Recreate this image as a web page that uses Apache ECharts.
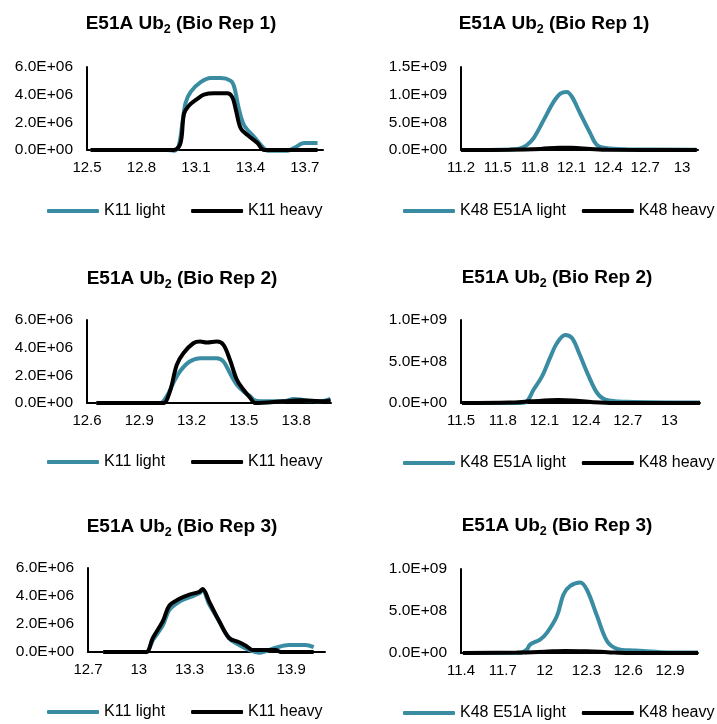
<!DOCTYPE html>
<html><head><meta charset="utf-8">
<script src="https://cdn.jsdelivr.net/npm/echarts@6/dist/echarts.min.js"></script>
<style>html,body{margin:0;padding:0;background:#fff}#c{width:717px;height:724px}</style>
</head><body><div id="c"></div>
<script>
// ---- text ----
const titles = ['E51A Ub{s|2} (Bio Rep 1)','E51A Ub{s|2} (Bio Rep 1)','E51A Ub{s|2} (Bio Rep 2)','E51A Ub{s|2} (Bio Rep 2)','E51A Ub{s|2} (Bio Rep 3)','E51A Ub{s|2} (Bio Rep 3)'];
const namesK11 = ['K11 light','K11 heavy'];
const namesK48 = ['K48 E51A light','K48 heavy'];
// ---- axes ----
const xMin = [12.5, 11.2, 12.6, 11.5, 12.7, 11.4];
const xMax = [13.8, 13.13, 14.0, 13.22, 14.1, 13.1];
const xStep = 0.3;
const yMax = [6e6, 1.5e9, 6e6, 1e9, 6e6, 1e9];
const yStep = [2e6, 5e8, 2e6, 5e8, 2e6, 5e8];
// ---- data [retention time, intensity] ----
const p1Light = [[12.52,0],[12.94,0],[12.98,-0.05e6],[13.005,0.3e6],[13.025,1.9e6],[13.043,3.4e6],[13.071,4.2e6],[13.126,4.9e6],[13.181,5.2e6],[13.237,5.2e6],[13.292,5.0e6],[13.31,4.6e6],[13.338,2.9e6],[13.365,1.8e6],[13.42,0.96e6],[13.476,0.1e6],[13.494,-0.05e6],[13.605,-0.05e6],[13.641,0.15e6],[13.697,0.5e6],[13.77,0.5e6]];
const p1Heavy = [[12.52,0],[12.978,0],[13.015,0.5e6],[13.034,2.6e6],[13.061,3.2e6],[13.108,3.7e6],[13.144,4.0e6],[13.2,4.1e6],[13.273,4.1e6],[13.301,3.8e6],[13.32,2.9e6],[13.347,1.56e6],[13.384,1.08e6],[13.439,0.5e6],[13.476,0],[13.77,0]];
const p2Light = [[11.2,0],[11.6,0.01e9],[11.683,0.03e9],[11.737,0.09e9],[11.79,0.21e9],[11.873,0.54e9],[11.954,0.87e9],[12.009,1.02e9],[12.063,1.05e9],[12.104,0.96e9],[12.171,0.66e9],[12.253,0.3e9],[12.307,0.09e9],[12.389,0.03e9],[12.552,0.015e9],[13.12,0.005e9]];
const p2Heavy = [[11.2,0],[11.6,0.005e9],[11.85,0.02e9],[12.0,0.04e9],[12.1,0.04e9],[12.25,0.02e9],[12.4,0.005e9],[13.12,0]];
const p3Light = [[12.654,0],[13.02,0],[13.057,0.48e6],[13.095,1.44e6],[13.134,2.3e6],[13.19,3.0e6],[13.25,3.24e6],[13.345,3.24e6],[13.383,3.0e6],[13.42,2.16e6],[13.46,1.32e6],[13.498,0.84e6],[13.537,0.48e6],[13.556,0.24e6],[13.594,0.12e6],[13.728,0.12e6],[13.786,0.29e6],[13.863,0.19e6],[13.94,0.12e6],[13.997,0.29e6]];
const p3Heavy = [[12.654,0],[13.02,0],[13.04,0],[13.076,0.84e6],[13.115,2.76e6],[13.153,3.6e6],[13.21,4.32e6],[13.249,4.44e6],[13.287,4.37e6],[13.345,4.44e6],[13.383,4.2e6],[13.42,3.12e6],[13.46,1.68e6],[13.498,0.96e6],[13.537,0.36e6],[13.565,0],[13.728,0.12e6],[13.824,0.19e6],[13.94,0.12e6],[13.997,0.19e6]];
const p4Light = [[11.507,0],[11.927,0],[11.975,0.02e9],[12.022,0.16e9],[12.083,0.32e9],[12.142,0.55e9],[12.19,0.72e9],[12.25,0.82e9],[12.3,0.78e9],[12.35,0.6e9],[12.42,0.32e9],[12.48,0.12e9],[12.54,0.04e9],[12.694,0.015e9],[13.22,0.005e9]];
const p4Heavy = [[11.507,0],[11.85,0.005e9],[12.0,0.02e9],[12.2,0.035e9],[12.3,0.03e9],[12.45,0.01e9],[12.6,0],[13.22,0]];
const p5Light = [[12.79,0],[13.005,0],[13.045,0],[13.083,0.84e6],[13.142,1.9e6],[13.18,3.0e6],[13.24,3.6e6],[13.299,3.9e6],[13.358,4.2e6],[13.377,4.4e6],[13.416,3.4e6],[13.475,2.2e6],[13.534,0.96e6],[13.593,0.5e6],[13.651,0.15e6],[13.71,-0.05e6],[13.749,0.05e6],[13.808,0.3e6],[13.886,0.5e6],[13.984,0.5e6],[14.033,0.35e6]];
const p5Heavy = [[12.79,0],[13.005,0],[13.045,0],[13.083,1.0e6],[13.142,2.2e6],[13.18,3.3e6],[13.24,3.8e6],[13.299,4.1e6],[13.358,4.3e6],[13.377,4.5e6],[13.416,3.6e6],[13.475,2.2e6],[13.534,1.0e6],[13.593,0.7e6],[13.632,0.45e6],[13.671,0.15e6],[13.749,0.15e6],[13.808,0.15e6],[13.837,0],[14.033,0]];
const p6Light = [[11.414,0],[11.823,0],[11.872,0.04e9],[11.895,0.1e9],[11.967,0.16e9],[12.016,0.24e9],[12.088,0.44e9],[12.136,0.7e9],[12.184,0.8e9],[12.256,0.84e9],[12.304,0.75e9],[12.376,0.44e9],[12.448,0.14e9],[12.52,0.05e9],[12.64,0.03e9],[12.833,0.01e9],[13.1,0.005e9]];
const p6Heavy = [[11.414,0],[11.8,0.005e9],[12.0,0.015e9],[12.15,0.025e9],[12.3,0.02e9],[12.45,0.01e9],[12.6,0],[13.1,0]];

const lightData = [p1Light,p2Light,p3Light,p4Light,p5Light,p6Light];
const heavyData = [p1Heavy,p2Heavy,p3Heavy,p4Heavy,p5Heavy,p6Heavy];

// ---- layout ----
const gridPos = [
  {left:87, top:67, width:236, height:83},
  {left:461, top:67, width:237, height:83},
  {left:87, top:320, width:244, height:83},
  {left:461, top:320, width:239, height:83},
  {left:88, top:568, width:237, height:84},
  {left:461, top:569, width:237, height:84}
];
const titlePos = [[181,12],[554,12],[182,267],[557,266],[182,515],[557,514]];
const legendPos = [[47,203],[403,203],[47,454],[403,455],[47,704],[403,705]];

const TEAL = '#3a8ca3';
const FONT = 'Liberation Sans, Arial, sans-serif';

function sci(v){
  if (Math.abs(v) < 1e-12) return '0.0E+00';
  const e = Math.floor(Math.log10(Math.abs(v)) + 1e-9);
  const m = v / Math.pow(10, e);
  return m.toFixed(1) + 'E+' + (e < 10 ? '0' + e : e);
}
function xfmt(v){ return String(Math.round(v*10)/10); }

const option = {
  animation:false,
  backgroundColor:'#fff',
  title:[], grid:[], xAxis:[], yAxis:[], legend:[], series:[]
};
for (let i=0;i<6;i++){
  const names = (i%2===0) ? namesK11 : namesK48;
  option.title.push({
    text: titles[i], left: titlePos[i][0], top: titlePos[i][1], textAlign:'center', padding:0,
    textStyle:{fontFamily:FONT, fontSize:19, fontWeight:'bold', color:'#000',
      rich:{s:{fontFamily:FONT, fontSize:12.5, fontWeight:'bold', color:'#000', padding:[11,0,0,0]}}}
  });
  option.grid.push(Object.assign({containLabel:false}, gridPos[i]));
  option.xAxis.push({
    type:'value', gridIndex:i, min:xMin[i], max:xMax[i], interval:xStep,
    axisLine:{show:true, onZero:false, lineStyle:{color:'#000', width:2}},
    axisTick:{show:false}, splitLine:{show:false},
    axisLabel:{show:true, showMaxLabel:false, margin:10, formatter:xfmt, color:'#000', fontFamily:FONT, fontSize:15}
  });
  option.yAxis.push({
    type:'value', gridIndex:i, min:0, max:yMax[i], interval:yStep[i],
    axisLine:{show:true, lineStyle:{color:'#000', width:2}},
    axisTick:{show:false}, splitLine:{show:false},
    axisLabel:{margin:14, formatter:sci, color:'#000', fontFamily:FONT, fontSize:15.5}
  });
  option.legend.push({
    left: legendPos[i][0], top: legendPos[i][1], padding:0,
    itemWidth:52, itemHeight:4, itemGap:(i%2===0)?26:16, icon:'roundRect',
    textStyle:{fontFamily:FONT, fontSize:16, color:'#000'},
    data:[{name:names[0], itemStyle:{color:TEAL}}, {name:names[1], itemStyle:{color:'#000'}}]
  });
  option.series.push({
    type:'line', name:names[0], xAxisIndex:i, yAxisIndex:i, data:lightData[i],
    smooth:0.35, symbol:'none', clip:false, lineStyle:{color:TEAL, width:4}, itemStyle:{color:TEAL}
  });
  option.series.push({
    type:'line', name:names[1], xAxisIndex:i, yAxisIndex:i, data:heavyData[i],
    smooth:0.35, symbol:'none', clip:false, lineStyle:{color:'#000', width:4}, itemStyle:{color:'#000'}
  });
}
const chart = echarts.init(document.getElementById('c'), null, {renderer:'canvas'});
chart.setOption(option);
</script></body></html>
